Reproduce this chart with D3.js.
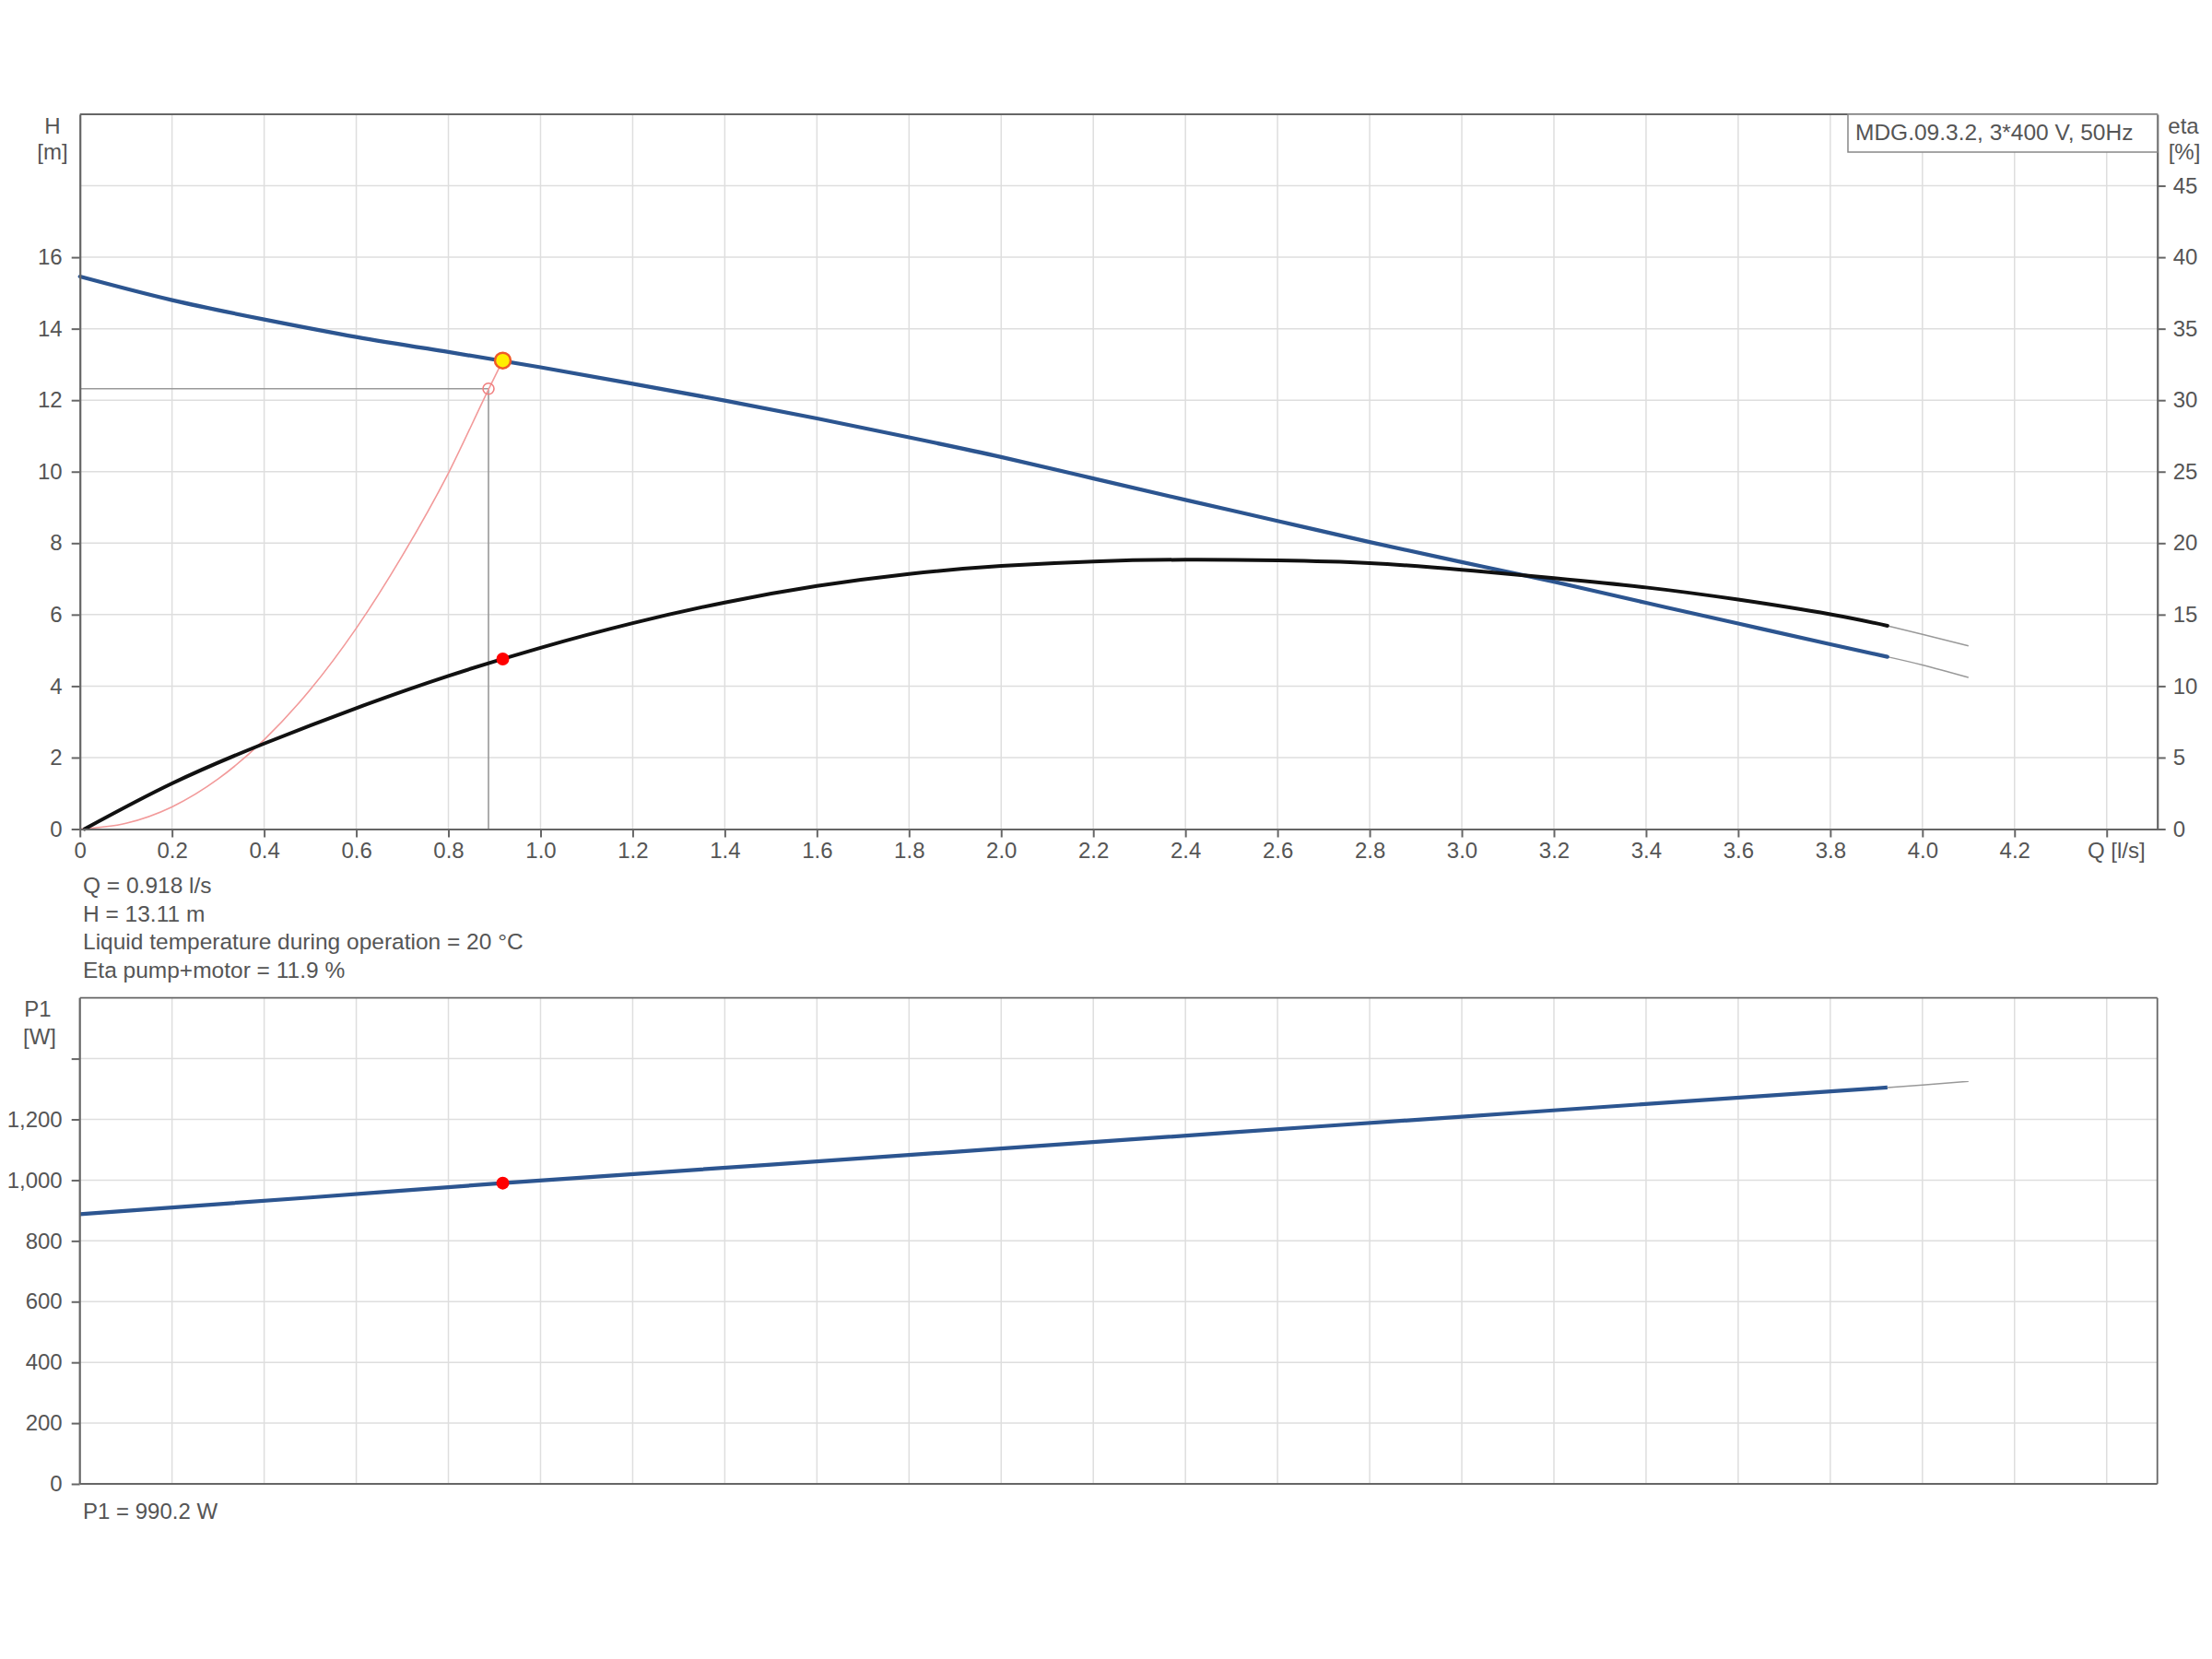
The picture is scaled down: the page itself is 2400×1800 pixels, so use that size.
<!DOCTYPE html>
<html>
<head>
<meta charset="utf-8">
<script src="https://cdn.jsdelivr.net/npm/d3@7"></script>
<style>
  html, body { margin: 0; padding: 0; background: #fff; }
  svg { display: block; }
  text { font-family: "Liberation Sans", Arial, sans-serif; fill: #555; }
</style>
</head>
<body>
<svg id="chart" width="2400" height="1800"></svg>
<script>
// ---------------- DATA ----------------
const qTicks = [0, 0.2, 0.4, 0.6, 0.8, 1.0, 1.2, 1.4, 1.6, 1.8, 2.0, 2.2, 2.4, 2.6, 2.8, 3.0, 3.2, 3.4, 3.6, 3.8, 4.0, 4.2, 4.4];
const qTickLabels = ["0", "0.2", "0.4", "0.6", "0.8", "1.0", "1.2", "1.4", "1.6", "1.8", "2.0", "2.2", "2.4", "2.6", "2.8", "3.0", "3.2", "3.4", "3.6", "3.8", "4.0", "4.2", "Q [l/s]"];
const hTicks = [0, 2, 4, 6, 8, 10, 12, 14, 16];
const hGrid = [2, 4, 6, 8, 10, 12, 14, 16, 18];
const etaTicks = [0, 5, 10, 15, 20, 25, 30, 35, 40, 45];
const pTicks = [0, 200, 400, 600, 800, 1000, 1200, 1400];
const pTickLabels = ["0", "200", "400", "600", "800", "1,000", "1,200", ""];
const pGrid = [200, 400, 600, 800, 1000, 1200, 1400];

// Pump head curve H(Q) [m]
const headQ = [0, 0.2, 0.4, 0.6, 0.8, 1.0, 1.2, 1.4, 1.6, 1.8, 2.0, 2.2, 2.4, 2.6, 2.8, 3.0, 3.2, 3.4, 3.6, 3.8, 3.924];
const headH = [15.46, 14.80, 14.26, 13.77, 13.35, 12.92, 12.46, 11.99, 11.49, 10.96, 10.41, 9.81, 9.21, 8.62, 8.03, 7.47, 6.92, 6.33, 5.75, 5.17, 4.82];
const headExtQ = [3.924, 4.0, 4.1];
const headExtH = [4.82, 4.59, 4.24];

// Efficiency curve eta(Q) [%]
const etaQ = [0.01, 0.2, 0.4, 0.6, 0.8, 1.0, 1.2, 1.4, 1.6, 1.8, 2.0, 2.2, 2.4, 2.6, 2.8, 3.0, 3.2, 3.4, 3.6, 3.8, 3.924];
const etaV = [0, 3.19, 5.98, 8.46, 10.71, 12.68, 14.40, 15.85, 17.0, 17.85, 18.40, 18.72, 18.84, 18.79, 18.6, 18.14, 17.55, 16.9, 16.05, 15.02, 14.22];
const etaExtQ = [3.924, 4.0, 4.1];
const etaExtV = [14.22, 13.62, 12.82];

// System curve [m]
const sysQ = [0, 0.1, 0.2, 0.3, 0.4, 0.5, 0.6, 0.7, 0.8, 0.887, 0.918];
const sysH = [0, 0.16, 0.62, 1.40, 2.50, 3.90, 5.62, 7.65, 9.96, 12.30, 13.11];

// Power curve P1(Q) [W]
const powQ = [0, 0.5, 0.918, 1.5, 2.0, 2.5, 3.0, 3.5, 3.924];
const powP = [888, 943, 990.2, 1051, 1104, 1157, 1209, 1261, 1305];
const powExtQ = [3.924, 4.0, 4.1];
const powExtP = [1305, 1313, 1325];

// Duty point
const dutyQ = 0.918, dutyH = 13.11, dutyEta = 11.9, dutyP = 990.2;
const refQ = 0.887, refH = 12.32;

const legendText = "MDG.09.3.2, 3*400 V, 50Hz";
const infoLines = ["Q = 0.918 l/s", "H = 13.11 m", "Liquid temperature during operation = 20 °C", "Eta pump+motor = 11.9 %"];
const powerInfo = "P1 = 990.2 W";

// ---------------- LAYOUT ----------------
const L = 86.7, R = 2340.7;
const T1 = 124, B1 = 899.5;
const T2 = 1082.7, B2 = 1610;
const FS = 24;

const svg = d3.select("#chart");
const x = d3.scaleLinear().domain([0, 4.51]).range([L, R]);
const yH = d3.scaleLinear().domain([0, 20]).range([B1, T1]);
const yE = d3.scaleLinear().domain([0, 50]).range([B1, T1]);
const yP = d3.scaleLinear().domain([0, 1600]).range([B2, T2]);

const zip = (a, b) => a.map((v, i) => [v, b[i]]);
const gridColor = "#dedede";
const axisColor = "#666";

function grid(g, y0, y1, yScale, yVals) {
  g.selectAll("line.v").data(qTicks.filter(d => d > 0)).join("line")
    .attr("x1", d => x(d)).attr("x2", d => x(d)).attr("y1", y0).attr("y2", y1)
    .attr("stroke", gridColor).attr("stroke-width", 1.5);
  g.selectAll("line.h").data(yVals).join("line")
    .attr("x1", L).attr("x2", R).attr("y1", d => yScale(d)).attr("y2", d => yScale(d))
    .attr("stroke", gridColor).attr("stroke-width", 1.5);
}

// ---------- Top chart ----------
const gTop = svg.append("g");
grid(gTop.append("g"), T1, B1, yH, hGrid);

// reference lines
gTop.append("line").attr("x1", L).attr("x2", x(refQ)).attr("y1", yH(refH)).attr("y2", yH(refH))
  .attr("stroke", "#999").attr("stroke-width", 1.6);
gTop.append("line").attr("x1", x(refQ)).attr("x2", x(refQ)).attr("y1", yH(refH)).attr("y2", B1)
  .attr("stroke", "#999").attr("stroke-width", 1.6);

const lineH = d3.line().x(d => x(d[0])).y(d => yH(d[1])).curve(d3.curveNatural);
const lineE = d3.line().x(d => x(d[0])).y(d => yE(d[1])).curve(d3.curveNatural);
const lineP = d3.line().x(d => x(d[0])).y(d => yP(d[1])).curve(d3.curveNatural);
const lineSys = d3.line().x(d => x(d[0])).y(d => yH(d[1])).curve(d3.curveMonotoneX);

// system curve
gTop.append("path").datum(zip(sysQ, sysH)).attr("d", lineSys)
  .attr("fill", "none").attr("stroke", "#f29a9a").attr("stroke-width", 1.6);

// extensions
gTop.append("path").datum(zip(headExtQ, headExtH)).attr("d", lineH)
  .attr("fill", "none").attr("stroke", "#999").attr("stroke-width", 1.5);
gTop.append("path").datum(zip(etaExtQ, etaExtV)).attr("d", lineE)
  .attr("fill", "none").attr("stroke", "#999").attr("stroke-width", 1.5);

// main curves
gTop.append("path").datum(zip(headQ, headH)).attr("d", lineH)
  .attr("fill", "none").attr("stroke", "#2c5590").attr("stroke-width", 4.2).attr("stroke-linecap", "round");
gTop.append("path").datum(zip(etaQ, etaV)).attr("d", lineE)
  .attr("fill", "none").attr("stroke", "#111").attr("stroke-width", 4).attr("stroke-linecap", "round");

// markers
gTop.append("circle").attr("cx", x(refQ)).attr("cy", yH(refH)).attr("r", 6)
  .attr("fill", "none").attr("stroke", "#f08080").attr("stroke-width", 1.6);
gTop.append("circle").attr("cx", x(dutyQ)).attr("cy", yE(dutyEta)).attr("r", 7)
  .attr("fill", "#ff0000");
gTop.append("circle").attr("cx", x(dutyQ)).attr("cy", yH(dutyH)).attr("r", 8.5)
  .attr("fill", "#ffee00").attr("stroke", "#ef5a28").attr("stroke-width", 2.5);

// frame top
gTop.append("line").attr("x1", L).attr("x2", R).attr("y1", T1).attr("y2", T1)
  .attr("stroke", axisColor).attr("stroke-width", 1.8);

function styleAxis(g) {
  g.select(".domain").attr("stroke", axisColor).attr("stroke-width", 2.2);
  g.selectAll(".tick line").attr("stroke", axisColor).attr("stroke-width", 2);
  g.selectAll(".tick text").attr("font-size", FS).attr("fill", "#555")
    .attr("font-family", '"Liberation Sans", Arial, sans-serif');
}

const xAxis = gTop.append("g").attr("transform", `translate(0,${B1})`)
  .call(d3.axisBottom(x).tickValues(qTicks).tickFormat((d, i) => qTickLabels[i]).tickSize(9).tickPadding(5).tickSizeOuter(0));
styleAxis(xAxis);
// unit label sits slightly right of its tick
xAxis.selectAll(".tick text").filter((d, i) => i === qTicks.length - 1).attr("dx", 10);

const lAxis = gTop.append("g").attr("transform", `translate(${L},0)`)
  .call(d3.axisLeft(yH).tickValues(hTicks).tickSize(9).tickPadding(10).tickSizeOuter(0));
styleAxis(lAxis);

const rAxis = gTop.append("g").attr("transform", `translate(${R},0)`)
  .call(d3.axisRight(yE).tickValues(etaTicks).tickSize(9).tickPadding(8).tickSizeOuter(0));
styleAxis(rAxis);

// axis titles
const title = (txt, xx, yy) => svg.append("text").attr("x", xx).attr("y", yy)
  .attr("font-size", FS).attr("text-anchor", "middle").text(txt);
title("H", 57, 145);
title("[m]", 57, 173);
title("eta", 2369, 145);
title("[%]", 2370, 173);

// legend box
svg.append("rect").attr("x", 2005).attr("y", T1).attr("width", R - 2005).attr("height", 41)
  .attr("fill", "#fff").attr("stroke", "#888").attr("stroke-width", 1.5);
svg.append("text").attr("x", 2013).attr("y", 152).attr("font-size", 24.5).text(legendText);

// info text
infoLines.forEach((t, i) => {
  svg.append("text").attr("x", 90).attr("y", 969 + i * 30.7).attr("font-size", 24.5).text(t);
});

// ---------- Bottom chart ----------
const gBot = svg.append("g");
grid(gBot.append("g"), T2, B2, yP, pGrid);

gBot.append("path").datum(zip(powExtQ, powExtP)).attr("d", lineP)
  .attr("fill", "none").attr("stroke", "#999").attr("stroke-width", 1.5);
gBot.append("path").datum(zip(powQ, powP)).attr("d", lineP)
  .attr("fill", "none").attr("stroke", "#2c5590").attr("stroke-width", 4.2);
gBot.append("circle").attr("cx", x(dutyQ)).attr("cy", yP(dutyP)).attr("r", 7).attr("fill", "#ff0000");

// frame
gBot.append("line").attr("x1", L).attr("x2", R).attr("y1", T2).attr("y2", T2)
  .attr("stroke", axisColor).attr("stroke-width", 1.8);
gBot.append("line").attr("x1", R).attr("x2", R).attr("y1", T2).attr("y2", B2)
  .attr("stroke", axisColor).attr("stroke-width", 1.8);
gBot.append("line").attr("x1", L).attr("x2", R).attr("y1", B2).attr("y2", B2)
  .attr("stroke", axisColor).attr("stroke-width", 2.2);

const pAxis = gBot.append("g").attr("transform", `translate(${L},0)`)
  .call(d3.axisLeft(yP).tickValues(pTicks).tickFormat((d, i) => pTickLabels[i]).tickSize(9).tickPadding(10).tickSizeOuter(0));
pAxis.select(".domain").attr("d", `M0,${T2}V${B2}`);
styleAxis(pAxis);

title("P1", 41, 1103);
title("[W]", 43, 1133);
svg.append("text").attr("x", 90).attr("y", 1648).attr("font-size", FS).text(powerInfo);
</script>
</body>
</html>
